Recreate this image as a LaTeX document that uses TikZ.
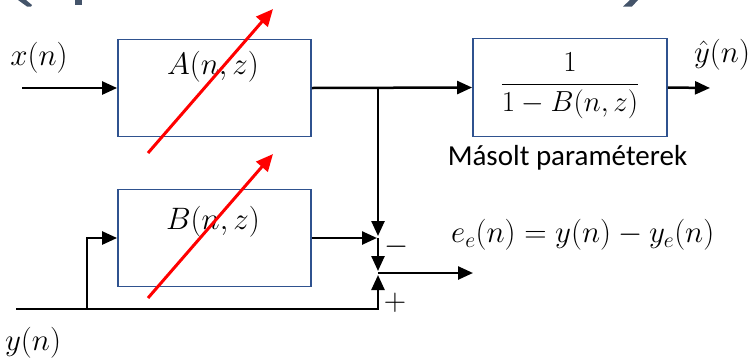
\RequirePackage{fix-cm}
\documentclass[tikz,border=0pt]{standalone}
\usepackage{fontspec}
\newfontfamily\calib{Carlito}
\usetikzlibrary{arrows.meta}
\definecolor{boxblue}{HTML}{2F528F}
\definecolor{titlegray}{HTML}{44546A}
\begin{document}
\begin{tikzpicture}[x=1pt,y=-1pt,
  blk/.style={draw=boxblue,line width=1.8pt,minimum width=193pt,minimum height=97pt,inner sep=0pt},
  wire/.style={line width=2.5pt,black},
  arr/.style={wire,-{Triangle[length=15pt,width=13pt]}},
  adj/.style={red,line width=3pt,-{Triangle[length=17pt,width=15pt]}},
  mathlbl/.style={font=\fontsize{31}{36}\selectfont,inner sep=0pt},
  frag/.style={fill=titlegray,draw=none}]
\useasboundingbox (0,0) rectangle (756,357);
% clipped title fragments
\fill[frag] (18,0) -- (26,0) -- (32,5) -- (31,6.5) -- (27,6.5) -- cycle;
\fill[frag] (75,0) rectangle (82,5);
\fill[frag] (630,0) -- (638,0) -- (632,6.5) -- (623,6.5) -- cycle;
% blocks
\node[blk] (A) at (214.5,88) {};
\node[mathlbl] (Alab) at (213,67) {$A(n,z)$};
\node[blk] (B) at (214.5,238) {};
\node[mathlbl] (Blab) at (213,222) {$B(n,z)$};
\node[blk,minimum width=194pt,minimum height=98pt] (H) at (570,87.5) {};
\node[mathlbl,font=\fontsize{29}{34}\selectfont] (Hlab) at (570,86) {$\displaystyle\frac{1}{1-B(n,z)}$};
% labels
\node[mathlbl] (xlab) at (39,58) {$x(n)$};
\node[mathlbl] (ylab) at (33,343) {$y(n)$};
\node[mathlbl] (yhat) at (722,55) {$\hat{y}(n)$};
\node[mathlbl,anchor=west] (elab) at (451,235) {$e_e(n)=y(n)-y_e(n)$};
\node[mathlbl] (minus) at (397,247) {$-$};
\node[mathlbl] (plus) at (395,303) {$+$};
\node[font=\calib\fontsize{29}{34}\selectfont,inner sep=0pt,anchor=base] (copy) at (567.5,165) {Másolt paraméterek};
% coordinates
\coordinate (xin) at (22,88);
\coordinate (J) at (378,88);
\coordinate (M1) at (378,236);
\coordinate (M2) at (377,238);
\coordinate (M) at (378,238);
\coordinate (S1) at (378,271);
\coordinate (S2) at (378,275);
\coordinate (S) at (378,273);
\coordinate (yin) at (16,309);
\coordinate (Br) at (87,309);
\coordinate (eout) at (473,273);
\coordinate (yout) at (710,88);
% wires
\draw[arr] (xin) -- (A.west);
\draw[arr] (A.east) -- (H.west);
\draw[arr] (H.east) -- (yout);
\draw[arr] (J) -- (M1);
\draw[arr] (B.east) -- (M2);
\draw[arr] (M) -- (S1);
\draw[arr] (yin) -| (S2);
\draw[arr] (Br) |- (B.west);
\draw[arr] (S) -- (eout);
% adaptive arrows
\coordinate (ra1) at (148,153);
\coordinate (ra2) at (273,9);
\coordinate (rb1) at (148,298);
\coordinate (rb2) at (273,154);
\draw[adj] (ra1) -- (ra2);
\draw[adj] (rb1) -- (rb2);
\end{tikzpicture}
\end{document}
